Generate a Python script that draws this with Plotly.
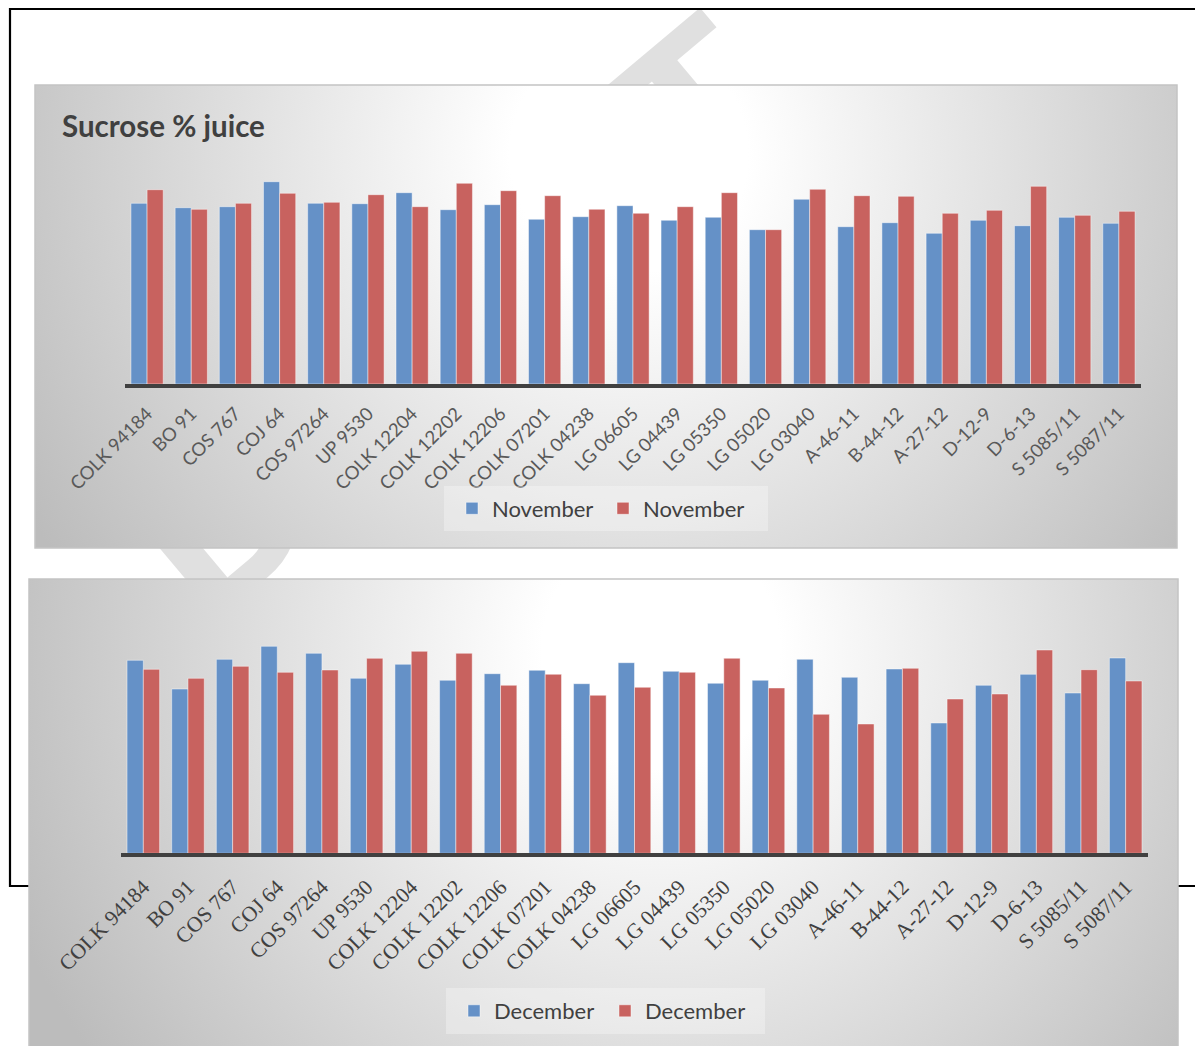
import plotly.graph_objects as go

# page body adds an 8px margin; figure fills the rest of the 1203x1046 window
OFF = 8
FW, FH = 1203 - OFF, 1046 - OFF

categories = ["COLK 94184", "BO 91", "COS 767", "COJ 64", "COS 97264", "UP 9530",
              "COLK 12204", "COLK 12202", "COLK 12206", "COLK 07201", "COLK 04238",
              "LG 06605", "LG 04439", "LG 05350", "LG 05020", "LG 03040", "A-46-11",
              "B-44-12", "A-27-12", "D-12-9", "D-6-13", "S 5085/11", "S 5087/11"]

nov_blue = [18.07, 17.63, 17.73, 20.23, 18.07, 18.03, 19.13, 17.43, 17.93, 16.47, 16.73, 17.83,
            16.37, 16.67, 15.43, 18.47, 15.73, 16.13, 15.07, 16.37, 15.83, 16.67, 16.07]
nov_red = [19.43, 17.47, 18.07, 19.07, 18.17, 18.93, 17.73, 20.07, 19.33, 18.83, 17.47, 17.07,
           17.73, 19.13, 15.43, 19.47, 18.83, 18.77, 17.07, 17.37, 19.77, 16.87, 17.27]

dec_blue = [19.30, 16.43, 19.40, 20.70, 20.00, 17.50, 18.90, 17.30, 17.96, 18.30, 16.96, 19.06,
            18.20, 17.00, 17.30, 19.40, 17.60, 18.43, 13.03, 16.80, 17.90, 16.03, 19.53]
dec_red = [18.40, 17.50, 18.70, 18.10, 18.33, 19.50, 20.20, 20.00, 16.80, 17.90, 15.80, 16.60,
           18.10, 19.50, 16.53, 13.90, 12.93, 18.50, 15.43, 15.93, 20.33, 18.36, 17.23]

top_names = ["November", "November"]
bottom_names = ["December", "December"]
title_text = "Sucrose % juice"
watermark_text = "DRAFT"

BLUE = "#6591c7"
RED = "#c8625f"
BAR_EDGE = "rgba(255,255,255,0.45)"
GRAD = [[0, "#ffffff"], [0.17, "#ffffff"], [1, "#bcbcbc"]]


def px(x):
    return (x - OFF) / FW


def py(y):
    return 1 - (y - OFF) / FH


def panel_fill(xa, ya, cx, cy, wpx, hpx, reach):
    hx = reach / wpx
    hy = reach / hpx
    return go.Scatter(
        x=[cx - hx, cx + hx, cx + hx, cx - hx],
        y=[cy - hy, cy - hy, cy + hy, cy + hy],
        xaxis=xa, yaxis=ya, fill="toself", mode="lines", line=dict(width=0),
        fillgradient=dict(type="radial", colorscale=GRAD),
        hoverinfo="skip", showlegend=False)


fig = go.Figure()

# gradient chart-area backgrounds
fig.add_trace(panel_fill("x", "y", 0.52, 0.85, 1142, 463, 700))
fig.add_trace(panel_fill("x2", "y2", 0.55, 0.85, 1149, 467, 700))

bar_edge = dict(color=BAR_EDGE, width=1)
fig.add_trace(go.Bar(x=categories, y=nov_blue, name=top_names[0], xaxis="x3", yaxis="y3",
                     marker=dict(color=BLUE, line=bar_edge), legend="legend"))
fig.add_trace(go.Bar(x=categories, y=nov_red, name=top_names[1], xaxis="x3", yaxis="y3",
                     marker=dict(color=RED, line=bar_edge), legend="legend"))
fig.add_trace(go.Bar(x=categories, y=dec_blue, name=bottom_names[0], xaxis="x4", yaxis="y4",
                     marker=dict(color=BLUE, line=bar_edge), legend="legend2"))
fig.add_trace(go.Bar(x=categories, y=dec_red, name=bottom_names[1], xaxis="x4", yaxis="y4",
                     marker=dict(color=RED, line=bar_edge), legend="legend2"))

hidden = dict(range=[0, 1], visible=False, fixedrange=True, automargin=False)
cat_axis = dict(showline=True, linecolor="#404040", linewidth=3.5, tickangle=-45, ticks="",
                showgrid=False, zeroline=False, fixedrange=True, automargin=False)

shapes = [
    # watermark (behind everything)
    dict(type="rect", xref="paper", yref="paper", x0=px(340), x1=px(540), y0=py(400), y1=py(200),
         line=dict(width=0), fillcolor="rgba(0,0,0,0)", layer="below",
         label=dict(text=watermark_text, textangle=-40, textposition="middle center",
                    font=dict(family="Liberation Sans", size=230, color="#e0e0e0", weight="bold"))),
    # page frame
    dict(type="line", xref="paper", yref="paper", x0=px(10), x1=1, y0=py(9), y1=py(9),
         line=dict(color="black", width=2.2), layer="below"),
    dict(type="line", xref="paper", yref="paper", x0=px(10), x1=px(10), y0=py(8), y1=py(887),
         line=dict(color="black", width=2.2), layer="below"),
    dict(type="line", xref="paper", yref="paper", x0=px(10), x1=1, y0=py(886), y1=py(886),
         line=dict(color="black", width=2.2), layer="below"),
    # panel borders
    dict(type="rect", xref="paper", yref="paper", x0=px(35), x1=px(1177), y0=py(548), y1=py(85),
         line=dict(color="#c4c4c4", width=1.5), fillcolor="rgba(0,0,0,0)", layer="above"),
    dict(type="rect", xref="paper", yref="paper", x0=px(29), x1=px(1178), y0=py(1050), y1=py(579),
         line=dict(color="#c4c4c4", width=1.5), fillcolor="rgba(0,0,0,0)", layer="above"),
    # legend boxes
    dict(type="rect", xref="paper", yref="paper", x0=px(444), x1=px(768), y0=py(531), y1=py(486),
         line=dict(width=0), fillcolor="rgba(255,255,255,0.3)", layer="above"),
    dict(type="rect", xref="paper", yref="paper", x0=px(446), x1=px(765), y0=py(1034), y1=py(988),
         line=dict(width=0), fillcolor="rgba(255,255,255,0.3)", layer="above"),
]

fig.update_layout(
    width=FW, height=FH, margin=dict(l=0, r=0, t=0, b=0, autoexpand=False),
    paper_bgcolor="white", plot_bgcolor="rgba(0,0,0,0)",
    barmode="group", bargap=0.27, bargroupgap=0,
    title=dict(text=title_text, x=px(62), xanchor="left", y=py(127), yanchor="middle",
               font=dict(family="Lato", size=29.5, color="#404040", weight="bold")),
    xaxis=dict(domain=[px(35), px(1177)], anchor="y", **hidden),
    yaxis=dict(domain=[py(548), py(85)], anchor="x", **hidden),
    xaxis2=dict(domain=[px(29), px(1178)], anchor="y2", **hidden),
    yaxis2=dict(domain=[0, py(579)], anchor="x2", **hidden),
    xaxis3=dict(domain=[px(125), px(1141)], anchor="y3", ticklabelstandoff=8,
                tickfont=dict(family="Lato", size=18.5, color="#595959"), **cat_axis),
    yaxis3=dict(domain=[py(384), py(174)], range=[0, 21], anchor="x3", visible=False,
                fixedrange=True, automargin=False),
    xaxis4=dict(domain=[px(121), px(1148)], anchor="y4", ticklabelstandoff=9,
                tickfont=dict(family="Liberation Serif", size=21.5, color="#404040"), **cat_axis),
    yaxis4=dict(domain=[py(853.3), py(643.3)], range=[0, 21], anchor="x4", visible=False,
                fixedrange=True, automargin=False),
    legend=dict(orientation="h", x=px(452), xanchor="left", y=py(508.5), yanchor="middle",
                entrywidth=106, bgcolor="rgba(0,0,0,0)",
                font=dict(family="Lato", size=22, color="#404040")),
    legend2=dict(orientation="h", x=px(454), xanchor="left", y=py(1011), yanchor="middle",
                 entrywidth=106, bgcolor="rgba(0,0,0,0)",
                 font=dict(family="Lato", size=22, color="#404040")),
    shapes=shapes,
    showlegend=True,
)

fig.write_html("out.html")
